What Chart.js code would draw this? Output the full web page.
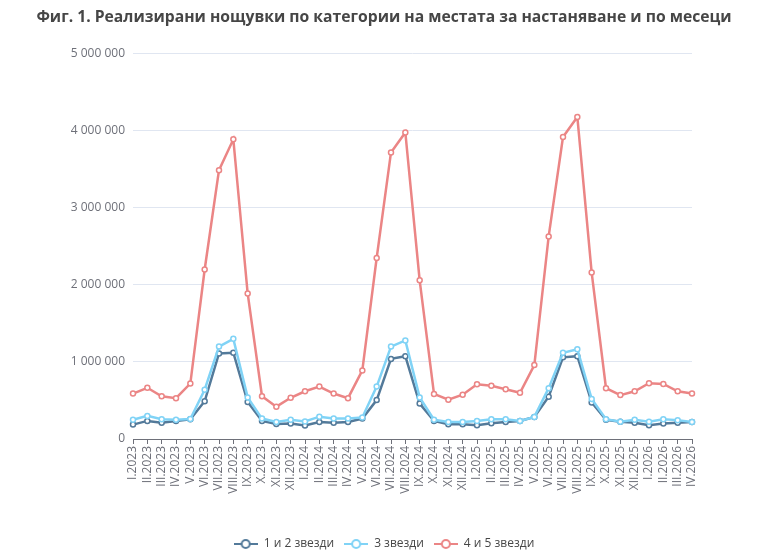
<!DOCTYPE html>
<html>
<head>
<meta charset="utf-8">
<script src="https://cdn.jsdelivr.net/npm/chart.js@4.4.1/dist/chart.umd.min.js"></script>
<style>
    html, body { margin: 0; padding: 0; background: #fff; }
    #wrap { width: 768px; height: 555px; }
</style>
</head>
<body>
<div id="wrap"><canvas id="nightsChart" width="768" height="555"></canvas></div>
<script>
// Months I.2023 - IV.2026
const months = [
    'I.2023', 'II.2023', 'III.2023', 'IV.2023', 'V.2023', 'VI.2023', 'VII.2023', 'VIII.2023', 'IX.2023', 'X.2023', 'XI.2023', 'XII.2023',
    'I.2024', 'II.2024', 'III.2024', 'IV.2024', 'V.2024', 'VI.2024', 'VII.2024', 'VIII.2024', 'IX.2024', 'X.2024', 'XI.2024', 'XII.2024',
    'I.2025', 'II.2025', 'III.2025', 'IV.2025', 'V.2025', 'VI.2025', 'VII.2025', 'VIII.2025', 'IX.2025', 'X.2025', 'XI.2025', 'XII.2025',
    'I.2026', 'II.2026', 'III.2026', 'IV.2026'
];

const stars12 = [
    187000, 235000, 210000, 235000, 257000, 490000, 1110000, 1120000, 480000, 235000, 195000, 200000,
    175000, 220000, 210000, 220000, 265000, 505000, 1040000, 1075000, 460000, 235000, 190000, 190000,
    180000, 205000, 220000, 235000, 287000, 550000, 1060000, 1075000, 475000, 250000, 225000, 210000,
    180000, 200000, 210000, 220000
];

const stars3 = [
    250000, 300000, 257000, 250000, 260000, 640000, 1200000, 1300000, 540000, 265000, 220000, 250000,
    228000, 290000, 265000, 265000, 280000, 680000, 1200000, 1280000, 540000, 250000, 220000, 220000,
    235000, 257000, 257000, 235000, 287000, 660000, 1120000, 1165000, 520000, 257000, 225000, 250000,
    225000, 257000, 245000, 220000
];

const stars45 = [
    590000, 665000, 555000, 530000, 720000, 2200000, 3490000, 3890000, 1890000, 555000, 420000, 535000,
    620000, 680000, 590000, 530000, 890000, 2350000, 3720000, 3980000, 2060000, 585000, 510000, 575000,
    710000, 690000, 645000, 600000, 960000, 2630000, 3920000, 4180000, 2160000, 660000, 570000, 620000,
    725000, 715000, 620000, 590000
];

const seriesNames = ['1 и 2 звезди', '3 звезди', '4 и 5 звезди'];
const yTicks = [0, 1000000, 2000000, 3000000, 4000000, 5000000];

const colors = ['#537a9a', '#80d3f6', '#eb8585'];
const axisGray = '#6e7079';

function formatNumber(v) {
    return String(v).replace(/\B(?=(\d{3})+(?!\d))/g, ' ');
}

// legend icon: short line with hollow circle
function makeLegendIcon(color) {
    const c = document.createElement('canvas');
    c.width = 24;
    c.height = 12;
    const ctx = c.getContext('2d');
    ctx.strokeStyle = color;
    ctx.lineWidth = 2;
    ctx.beginPath();
    ctx.moveTo(0, 6);
    ctx.lineTo(24, 6);
    ctx.stroke();
    ctx.beginPath();
    ctx.arc(12, 6, 4, 0, Math.PI * 2);
    ctx.fillStyle = '#fff';
    ctx.fill();
    ctx.stroke();
    return c;
}

function makeDataset(label, data, color, order, width) {
    return {
        label: label,
        data: data,
        borderColor: color,
        backgroundColor: '#fff',
        borderWidth: width,
        pointRadius: 2.5,
        pointHoverRadius: 3,
        pointBorderWidth: 1.5,
        pointBackgroundColor: '#fff',
        pointBorderColor: color,
        tension: 0,
        order: order
    };
}

// push the legend a few pixels lower after layout
const legendNudge = {
    id: 'legendNudge',
    afterLayout(chart) {
        if (chart.legend) {
            chart.legend.top += 5;
            chart.legend.bottom += 5;
        }
    }
};

const ctx = document.getElementById('nightsChart');
const chart = new Chart(ctx, {
    type: 'line',
    data: {
        labels: months,
        datasets: [
            makeDataset(seriesNames[0], stars12, colors[0], 3, 2.5),
            makeDataset(seriesNames[1], stars3, colors[1], 2, 2.5),
            makeDataset(seriesNames[2], stars45, colors[2], 1, 2.5)
        ]
    },
    plugins: [legendNudge],
    options: {
        responsive: false,
        animation: false,
        layout: {
            padding: { left: 0, right: 0, top: 8, bottom: 0 }
        },
        scales: {
            x: {
                offset: false,
                grid: {
                    drawOnChartArea: false,
                    drawTicks: true,
                    tickLength: 5,
                    color: axisGray
                },
                border: { color: axisGray, width: 1 },
                ticks: {
                    autoSkip: false,
                    minRotation: 90,
                    maxRotation: 90,
                    padding: 2,
                    color: axisGray,
                    font: { family: 'Open Sans', size: 12 }
                },
                afterFit: function(scale) { scale.height = 84; }
            },
            y: {
                min: 0,
                max: 5000000,
                afterBuildTicks: function(scale) {
                    scale.ticks = yTicks.map(v => ({ value: v }));
                },
                grid: {
                    color: '#e0e6f1',
                    drawTicks: false
                },
                border: { display: false },
                ticks: {
                    padding: 8,
                    color: axisGray,
                    font: { family: 'Open Sans', size: 12 },
                    callback: function(value) { return formatNumber(value); }
                },
                afterFit: function(scale) { scale.width = 133; }
            },
            // empty right axis, keeps the plot off the right edge
            yRight: {
                position: 'right',
                display: true,
                grid: { display: false },
                border: { display: false },
                ticks: { display: false },
                afterFit: function(scale) { scale.width = 76; }
            }
        },
        plugins: {
            title: {
                display: true,
                text: 'Фиг. 1. Реализирани нощувки по категории на местата за настаняване и по месеци',
                color: '#464646',
                font: { family: 'Open Sans', size: 15.7, weight: 'bold' },
                padding: { top: 0, bottom: 27 }
            },
            legend: {
                position: 'bottom',
                labels: {
                    usePointStyle: true,
                    pointStyleWidth: 24,
                    boxHeight: 12,
                    padding: 10,
                    color: '#464646',
                    font: { family: 'Open Sans', size: 12 },
                    sort: function(a, b) { return a.datasetIndex - b.datasetIndex; },
                    generateLabels: function(chart) {
                        const items = Chart.defaults.plugins.legend.labels.generateLabels(chart);
                        items.forEach(item => {
                            item.pointStyle = makeLegendIcon(colors[item.datasetIndex]);
                        });
                        return items;
                    }
                }
            },
            tooltip: { enabled: false }
        }
    }
});
</script>
</body>
</html>
